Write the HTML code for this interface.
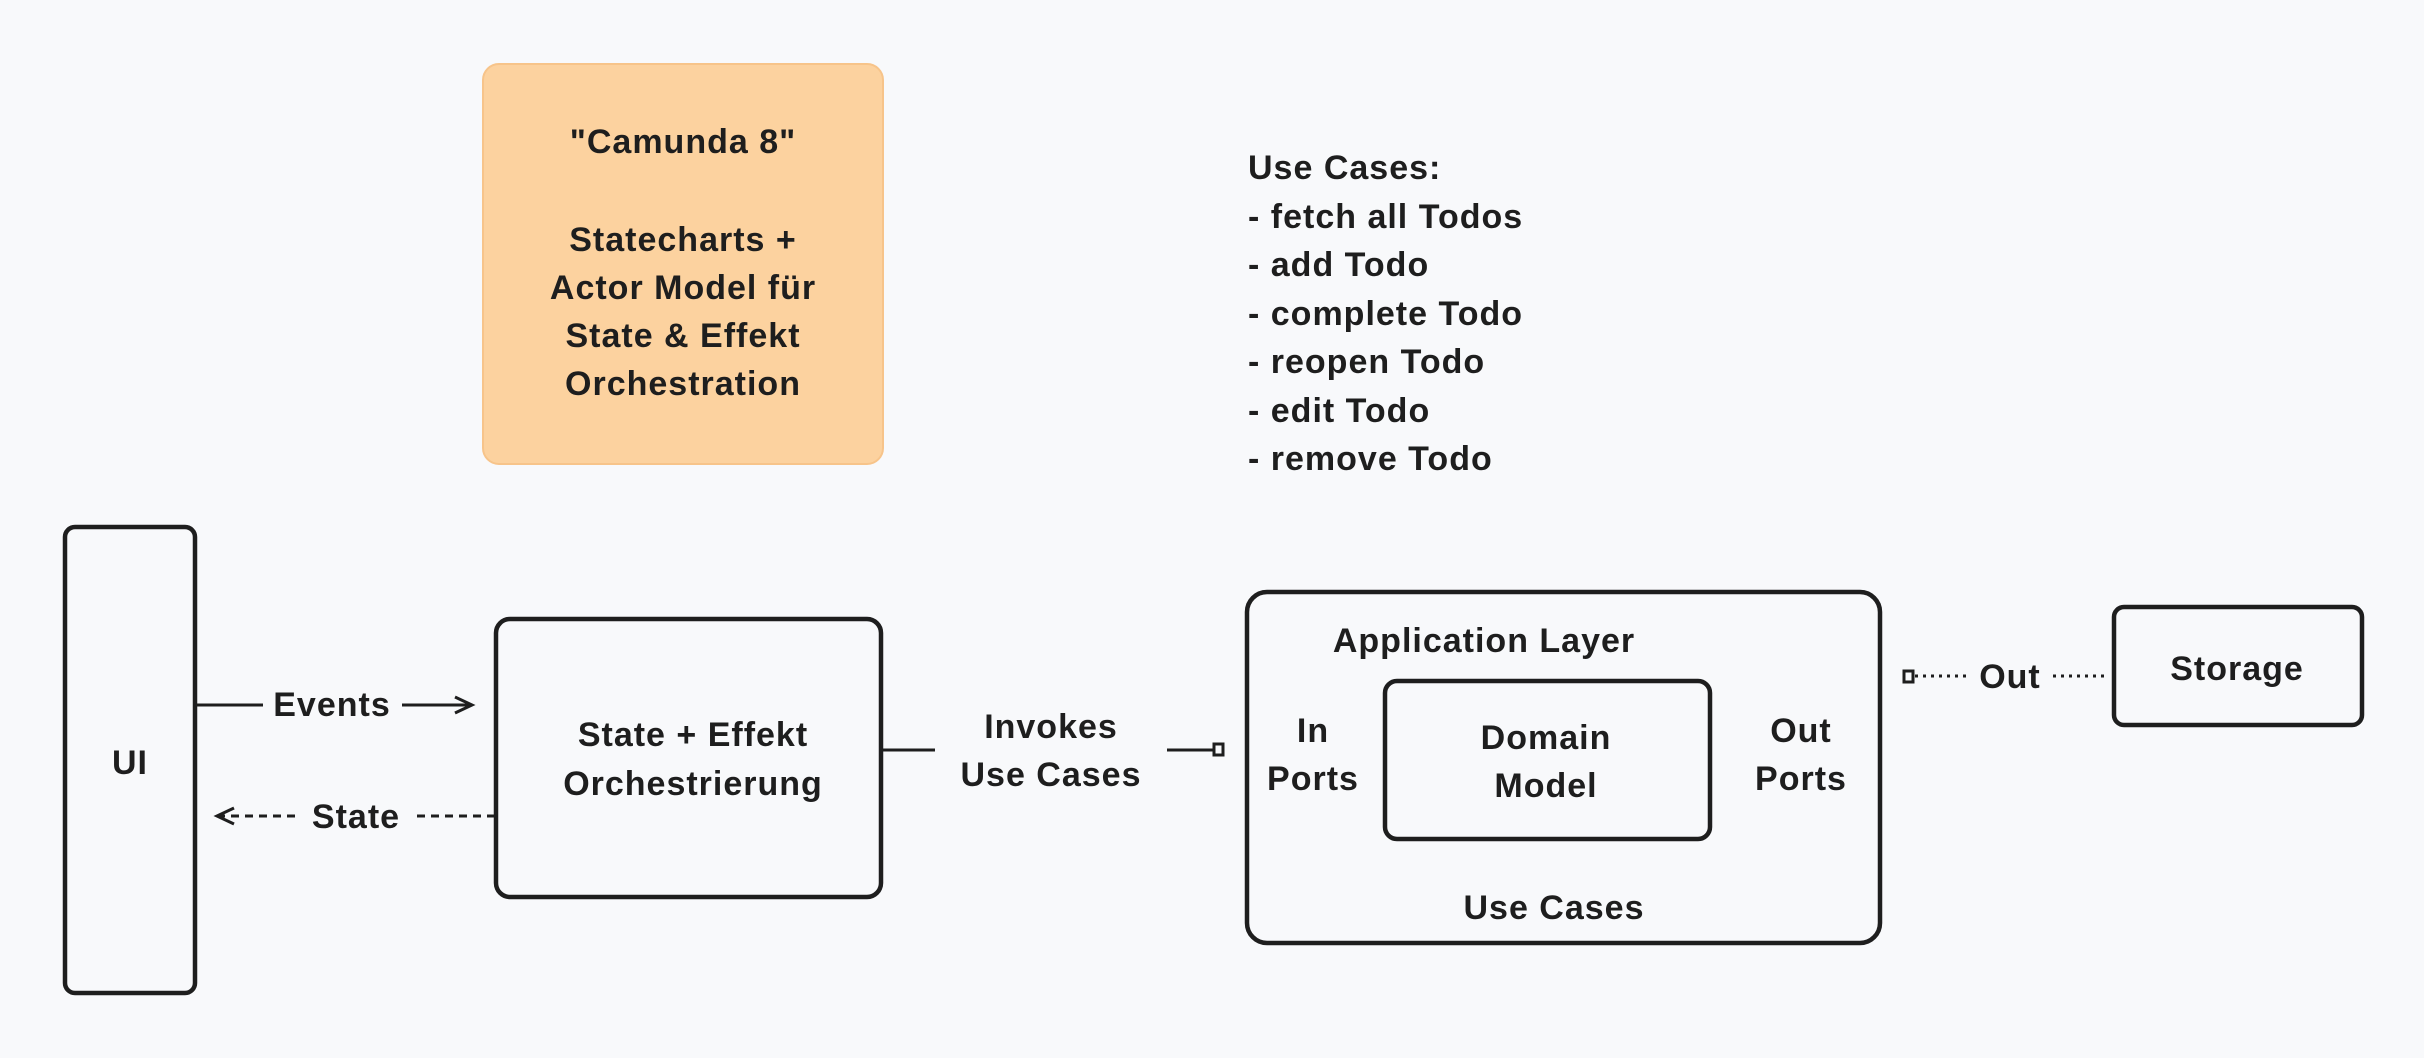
<!DOCTYPE html>
<html><head><meta charset="utf-8"><style>
html,body{margin:0;padding:0;background:#f8f9fb;}
svg{display:block}
text{font-family:"Liberation Sans",sans-serif;font-weight:bold;font-size:34px;letter-spacing:1px;fill:#1e1e1e;}
</style></head><body>
<svg width="2424" height="1058" viewBox="0 0 2424 1058" xmlns="http://www.w3.org/2000/svg">
<rect width="2424" height="1058" fill="#f8f9fb"/>
<rect x="483" y="64" width="400" height="400" rx="16" fill="#fcd29f" stroke="#f7c48a" stroke-width="2"/>
<g text-anchor="middle">
<text x="683" y="153">"Camunda 8"</text>
<text x="683" y="251">Statecharts +</text>
<text x="683" y="299">Actor Model für</text>
<text x="683" y="347">State &amp; Effekt</text>
<text x="683" y="395">Orchestration</text>
</g>
<g>
<text x="1248" y="179">Use Cases:</text>
<text x="1248" y="228">- fetch all Todos</text>
<text x="1248" y="276">- add Todo</text>
<text x="1248" y="325">- complete Todo</text>
<text x="1248" y="373">- reopen Todo</text>
<text x="1248" y="422">- edit Todo</text>
<text x="1248" y="470">- remove Todo</text>
</g>
<g fill="none" stroke="#1e1e1e" stroke-width="4.5">
<rect x="65" y="527" width="130" height="466" rx="10"/>
<rect x="496" y="619" width="385" height="278" rx="14"/>
<rect x="1247" y="592" width="633" height="351" rx="20"/>
<rect x="1385" y="681" width="325" height="158" rx="12"/>
<rect x="2114" y="607" width="248" height="118" rx="10"/>
</g>
<g stroke="#1e1e1e" stroke-width="3" fill="none">
<line x1="195" y1="705" x2="263" y2="705"/>
<line x1="402" y1="705" x2="470" y2="705"/>
<polyline points="455,697 472,705 455,713"/>
<line x1="217" y1="816" x2="297" y2="816" stroke-dasharray="8,6"/>
<line x1="417" y1="816" x2="495" y2="816" stroke-dasharray="8,6"/>
<polyline points="234,808 217,816 234,824"/>
<line x1="881" y1="750" x2="935" y2="750"/>
<line x1="1167" y1="750" x2="1214" y2="750"/>
<rect x="1214" y="744" width="9" height="11"/>
<rect x="1904" y="671" width="9" height="11"/>
<line x1="1915" y1="676" x2="1966" y2="676" stroke-dasharray="3,5"/>
<line x1="2053" y1="676" x2="2106" y2="676" stroke-dasharray="3,5"/>
</g>
<g text-anchor="middle">
<text x="332" y="716">Events</text>
<text x="356" y="828">State</text>
<text x="1051" y="738">Invokes</text>
<text x="1051" y="786">Use Cases</text>
<text x="2010" y="688">Out</text>
<text x="130" y="774">UI</text>
<text x="693" y="746">State + Effekt</text>
<text x="693" y="795">Orchestrierung</text>
<text x="1484" y="652">Application Layer</text>
<text x="1313" y="742">In</text>
<text x="1313" y="790">Ports</text>
<text x="1546" y="749">Domain</text>
<text x="1546" y="797">Model</text>
<text x="1801" y="742">Out</text>
<text x="1801" y="790">Ports</text>
<text x="1554" y="919">Use Cases</text>
<text x="2237" y="680">Storage</text>
</g>
</svg>
</body></html>
